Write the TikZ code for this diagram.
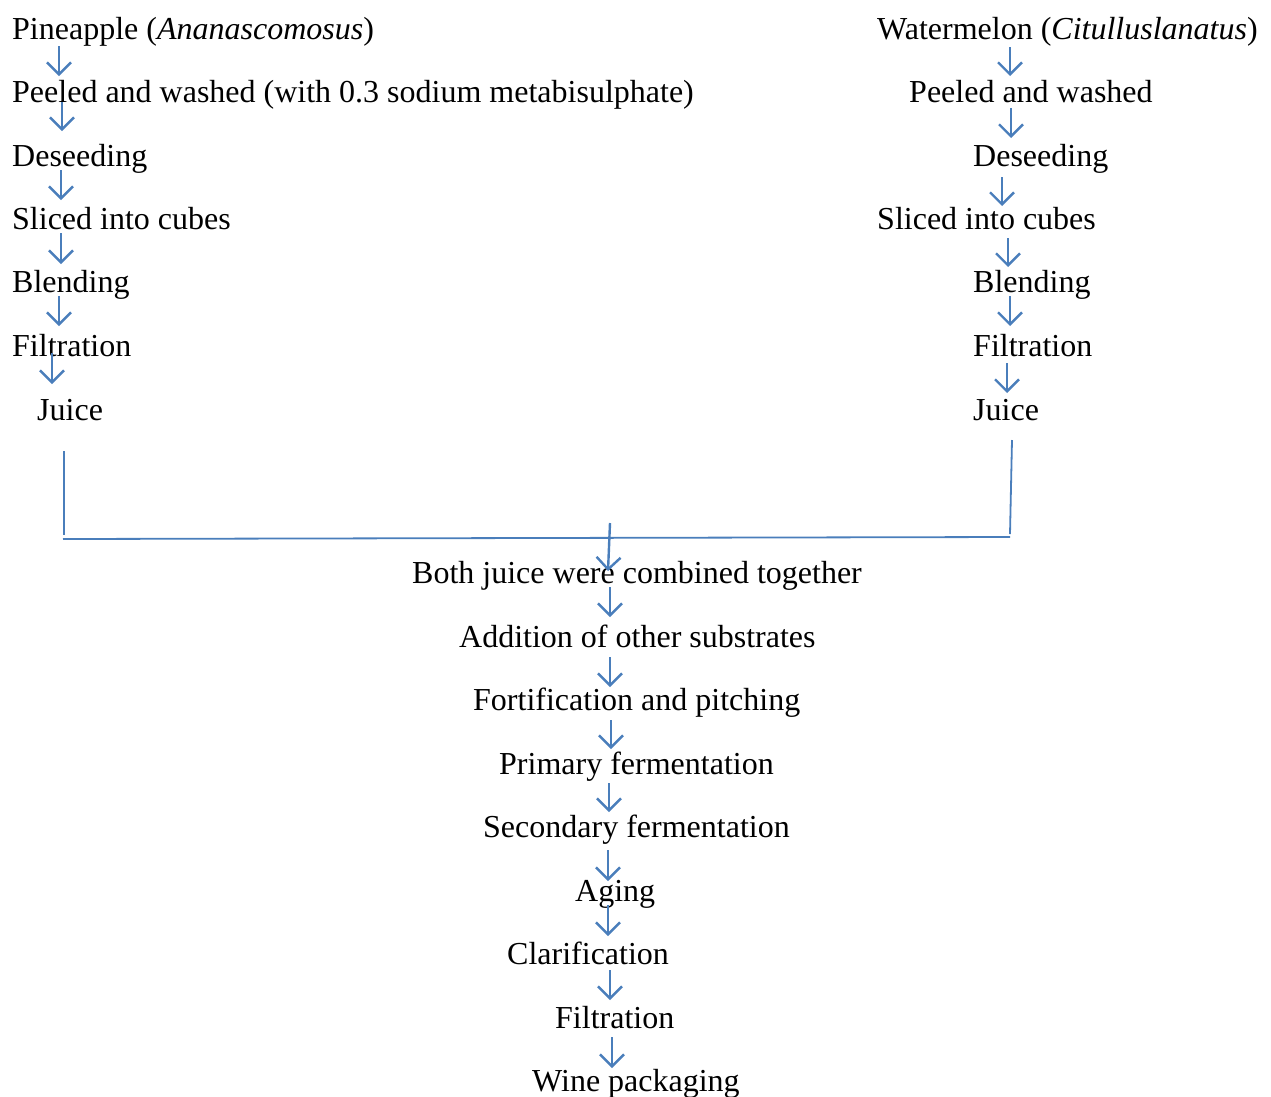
\documentclass[tikz,border=0pt]{standalone}
\usepackage{fontspec}
\setmainfont{Liberation Serif}
\usetikzlibrary{arrows.meta}
\definecolor{arrblue}{HTML}{4A7EBB}
\begin{document}
\begin{tikzpicture}[x=1pt,y=-1pt,
  lbl/.style={anchor=base west,inner sep=0pt,font=\fontsize{32}{38}\selectfont},
  arr/.style={draw=arrblue,line width=2.4pt,-{Straight Barb[length=12pt,width=24pt]}},
  ln/.style={draw=arrblue,line width=1.8pt}]
\useasboundingbox (0,0) rectangle (1271,1096);
% left column
\node[lbl] (p1) at (12,39) {Pineapple (\textit{Ananascomosus})};
\node[lbl] (p2) at (12,102) {Peeled and washed (with 0.3 sodium metabisulphate)};
\node[lbl] (p3) at (12,166) {Deseeding};
\node[lbl] (p4) at (12,229) {Sliced into cubes};
\node[lbl] (p5) at (12,292) {Blending};
\node[lbl] (p6) at (12,356) {Filtration};
\node[lbl] (p7) at (37,420) {Juice};
% right column
\node[lbl] (w1) at (877,39) {Watermelon (\textit{Citulluslanatus})};
\node[lbl] (w2) at (909,102) {Peeled and washed};
\node[lbl] (w3) at (973,166) {Deseeding};
\node[lbl] (w4) at (877,229) {Sliced into cubes};
\node[lbl] (w5) at (973,292) {Blending};
\node[lbl] (w6) at (973,356) {Filtration};
\node[lbl] (w7) at (973,420) {Juice};
% centre column
\node[lbl] (c1) at (412,583) {Both juice were combined together};
\node[lbl] (c2) at (459,647) {Addition of other substrates};
\node[lbl] (c3) at (473,710) {Fortification and pitching};
\node[lbl] (c4) at (499,774) {Primary fermentation};
\node[lbl] (c5) at (483,837) {Secondary fermentation};
\node[lbl] (c6) at (575,901) {Aging};
\node[lbl] (c7) at (507,964) {Clarification};
\node[lbl] (c8) at (555,1028) {Filtration};
\node[lbl] (c9) at (532,1091) {Wine packaging};
% left arrows
\draw[arr] (59,46) coordinate (pa1) -- (59,76) coordinate (pb1);
\draw[arr] (62,102) coordinate (pa2) -- (62,131) coordinate (pb2);
\draw[arr] (61,170) coordinate (pa3) -- (61,200) coordinate (pb3);
\draw[arr] (61,233) coordinate (pa4) -- (61,264) coordinate (pb4);
\draw[arr] (59,296) coordinate (pa5) -- (59,326) coordinate (pb5);
\draw[arr] (52,353) coordinate (pa6) -- (52,384) coordinate (pb6);
% right arrows
\draw[arr] (1010,47) coordinate (wa1) -- (1010,76) coordinate (wb1);
\draw[arr] (1011,108) coordinate (wa2) -- (1011,138) coordinate (wb2);
\draw[arr] (1002,177) coordinate (wa3) -- (1002,206) coordinate (wb3);
\draw[arr] (1008,238) coordinate (wa4) -- (1008,267) coordinate (wb4);
\draw[arr] (1010,296) coordinate (wa5) -- (1010,326) coordinate (wb5);
\draw[arr] (1007,363) coordinate (wa6) -- (1007,393) coordinate (wb6);
% joining lines
\coordinate (jl) at (64,451);
\coordinate (jlb) at (64,535);
\coordinate (hl) at (63,539);
\coordinate (hr) at (1010,537);
\coordinate (jr) at (1012,440);
\coordinate (jrb) at (1010,534);
\draw[ln] (jl) -- (jlb);
\draw[ln] (hl) -- (hr);
\draw[ln] (jr) -- (jrb);
% centre arrows
\draw[arr] (610,523) coordinate (ca0) -- (608,571) coordinate (cb0);
\draw[arr] (610,587) coordinate (ca1) -- (610,617) coordinate (cb1);
\draw[arr] (610,657) coordinate (ca2) -- (610,687) coordinate (cb2);
\draw[arr] (611,720) coordinate (ca3) -- (611,749) coordinate (cb3);
\draw[arr] (609,783) coordinate (ca4) -- (609,812) coordinate (cb4);
\draw[arr] (608,850) coordinate (ca5) -- (608,881) coordinate (cb5);
\draw[arr] (608,905) coordinate (ca6) -- (608,936) coordinate (cb6);
\draw[arr] (610,970) coordinate (ca7) -- (610,1000) coordinate (cb7);
\draw[arr] (612,1037) coordinate (ca8) -- (612,1068) coordinate (cb8);
\end{tikzpicture}
\end{document}
